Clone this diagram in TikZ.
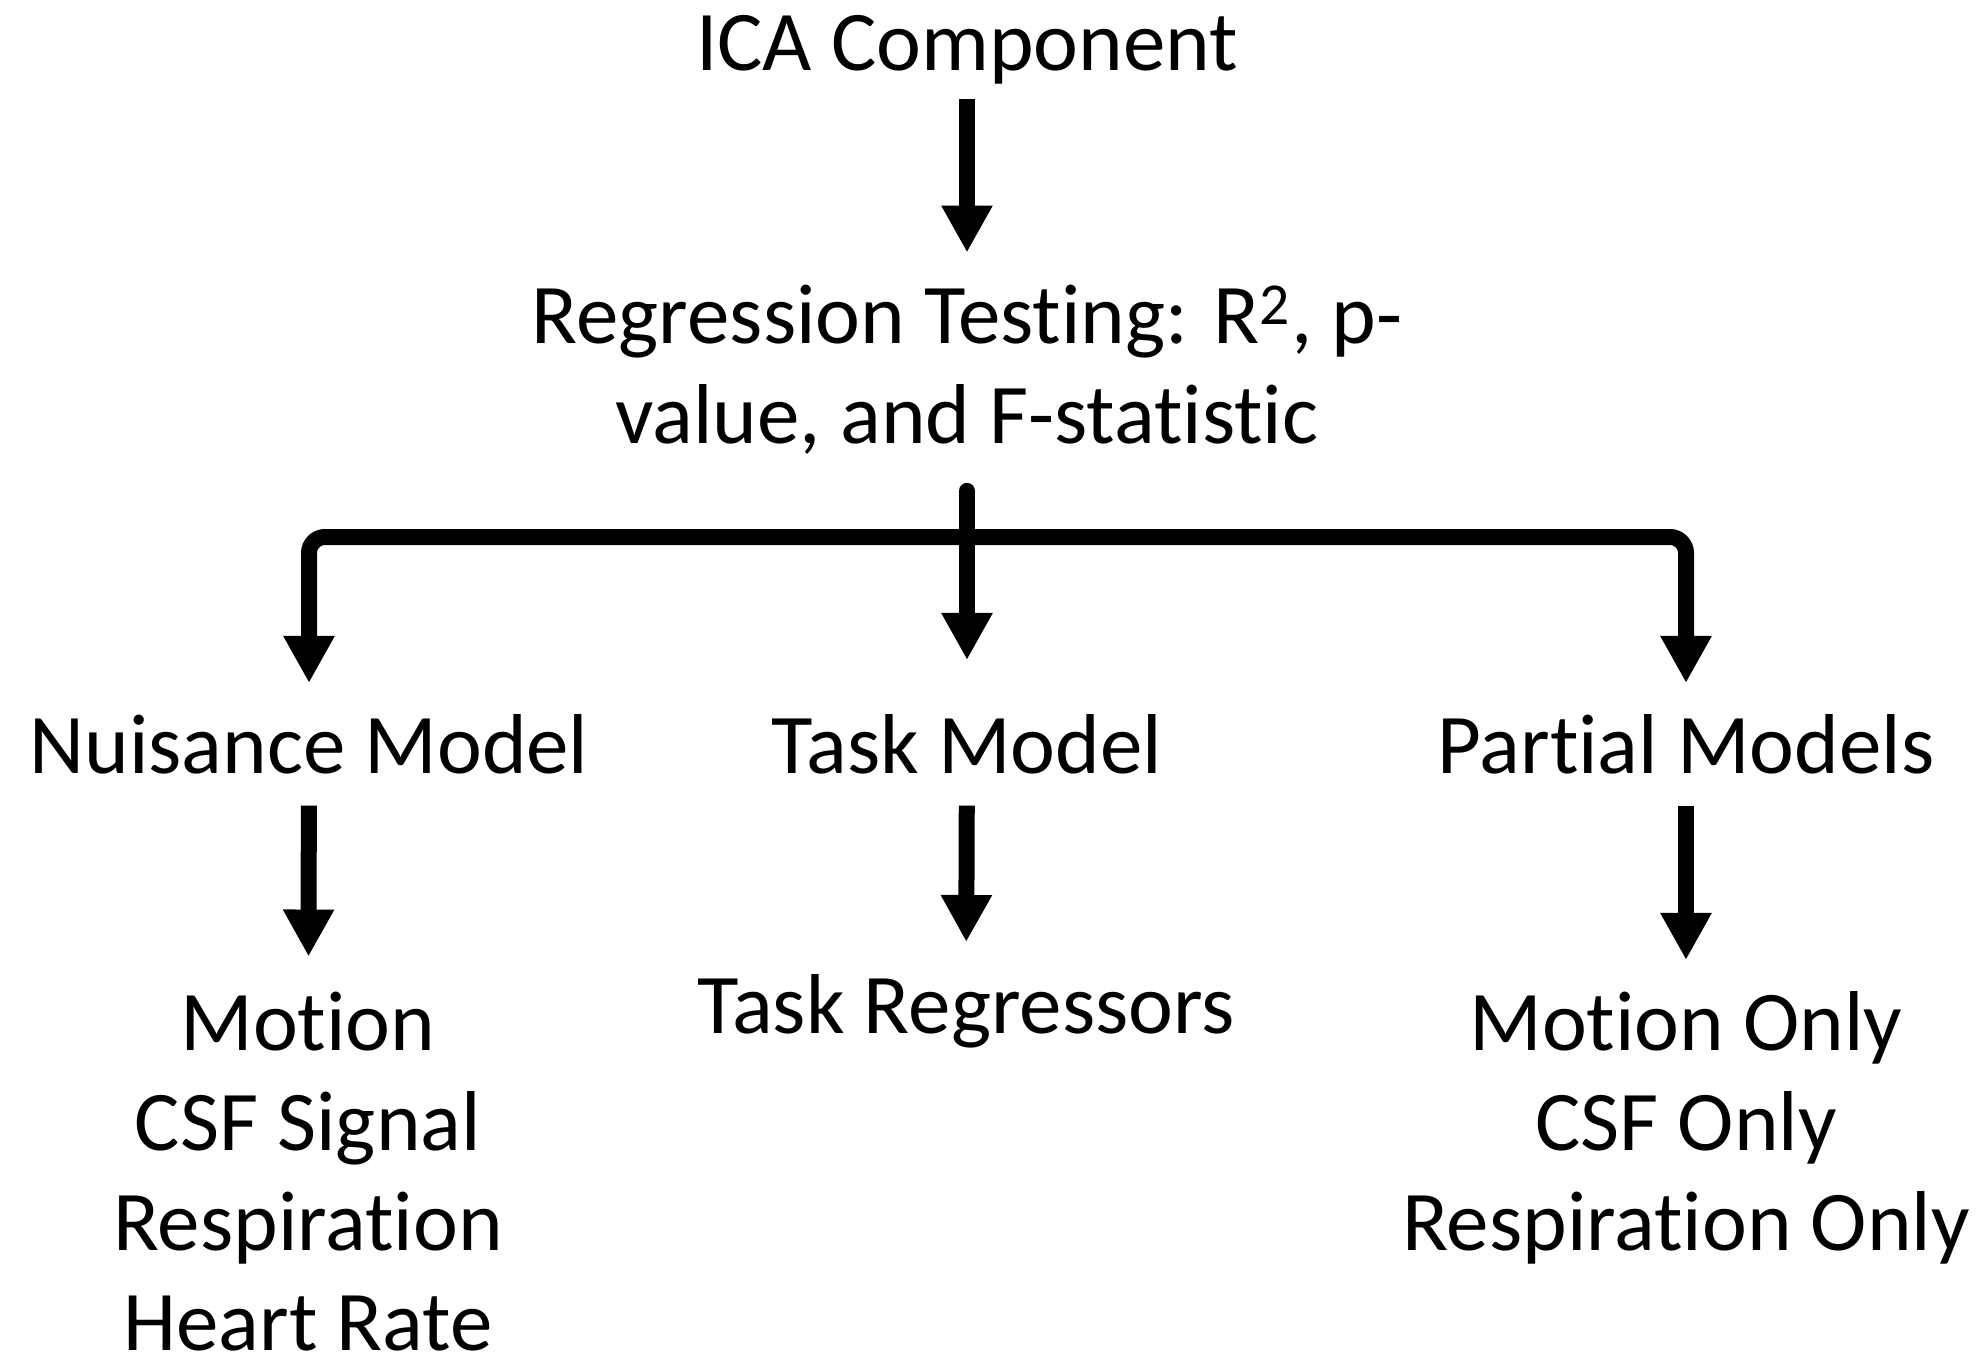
\documentclass[tikz,border=0pt]{standalone}
\usepackage{fontspec}
\setmainfont{Carlito}[Ligatures={NoCommon}]
\usetikzlibrary{arrows.meta}

\begin{document}
\begin{tikzpicture}[
  x=0.5pt, y=-0.5pt,
  lbl/.style={font=\fontsize{42.5pt}{50pt}\selectfont, align=center,
              inner sep=0pt, outer sep=0pt, anchor=base},
  ar/.style={line width=8pt, -{Triangle[length=23.5pt, width=24pt]}}
]
\useasboundingbox (0,0) rectangle (1982,1359);
% top of the tree (base anchor = last line)
\node[lbl] (ica) at (967,71) {ICA Component};
\node[lbl] (reg) at (967,443) {Regression Testing: R\textsuperscript{2}, p-\\value, and F-statistic};
% the three models
\node[lbl] (nuis) at (309,773) {Nuisance Model};
\node[lbl] (task) at (967,773) {Task Model};
\node[lbl] (part) at (1686,773) {Partial Models};
% what goes into each model
\node[lbl] (nuisreg) at (308,1350) {Motion\\CSF Signal\\Respiration\\Heart Rate};
\node[lbl] (taskreg) at (966,1033) {Task Regressors};
\node[lbl] (partreg) at (1686,1250) {Motion Only\\CSF Only\\Respiration Only};
\coordinate (fork) at (967,537);

\draw[ar, shorten <=7pt, shorten >=16pt] (ica.south) -- (reg.north);
\draw[ar, line cap=round, shorten <=18.5pt, shorten >=27pt] (reg.south) -- (task.north);
\draw[ar, rounded corners=8pt, shorten >=15.5pt] (fork) -| (nuis.north);
\draw[ar, rounded corners=8pt, shorten >=15.5pt] (fork) -| (part.north);
\draw[ar, shorten <=16pt, shorten >=17.5pt] (nuis) -- (nuisreg);
\draw[ar, shorten <=16pt, shorten >=16pt] (task) -- (taskreg);
\draw[ar, shorten <=16pt, shorten >=15.5pt] (part) -- (partreg);
\end{tikzpicture}
\end{document}
